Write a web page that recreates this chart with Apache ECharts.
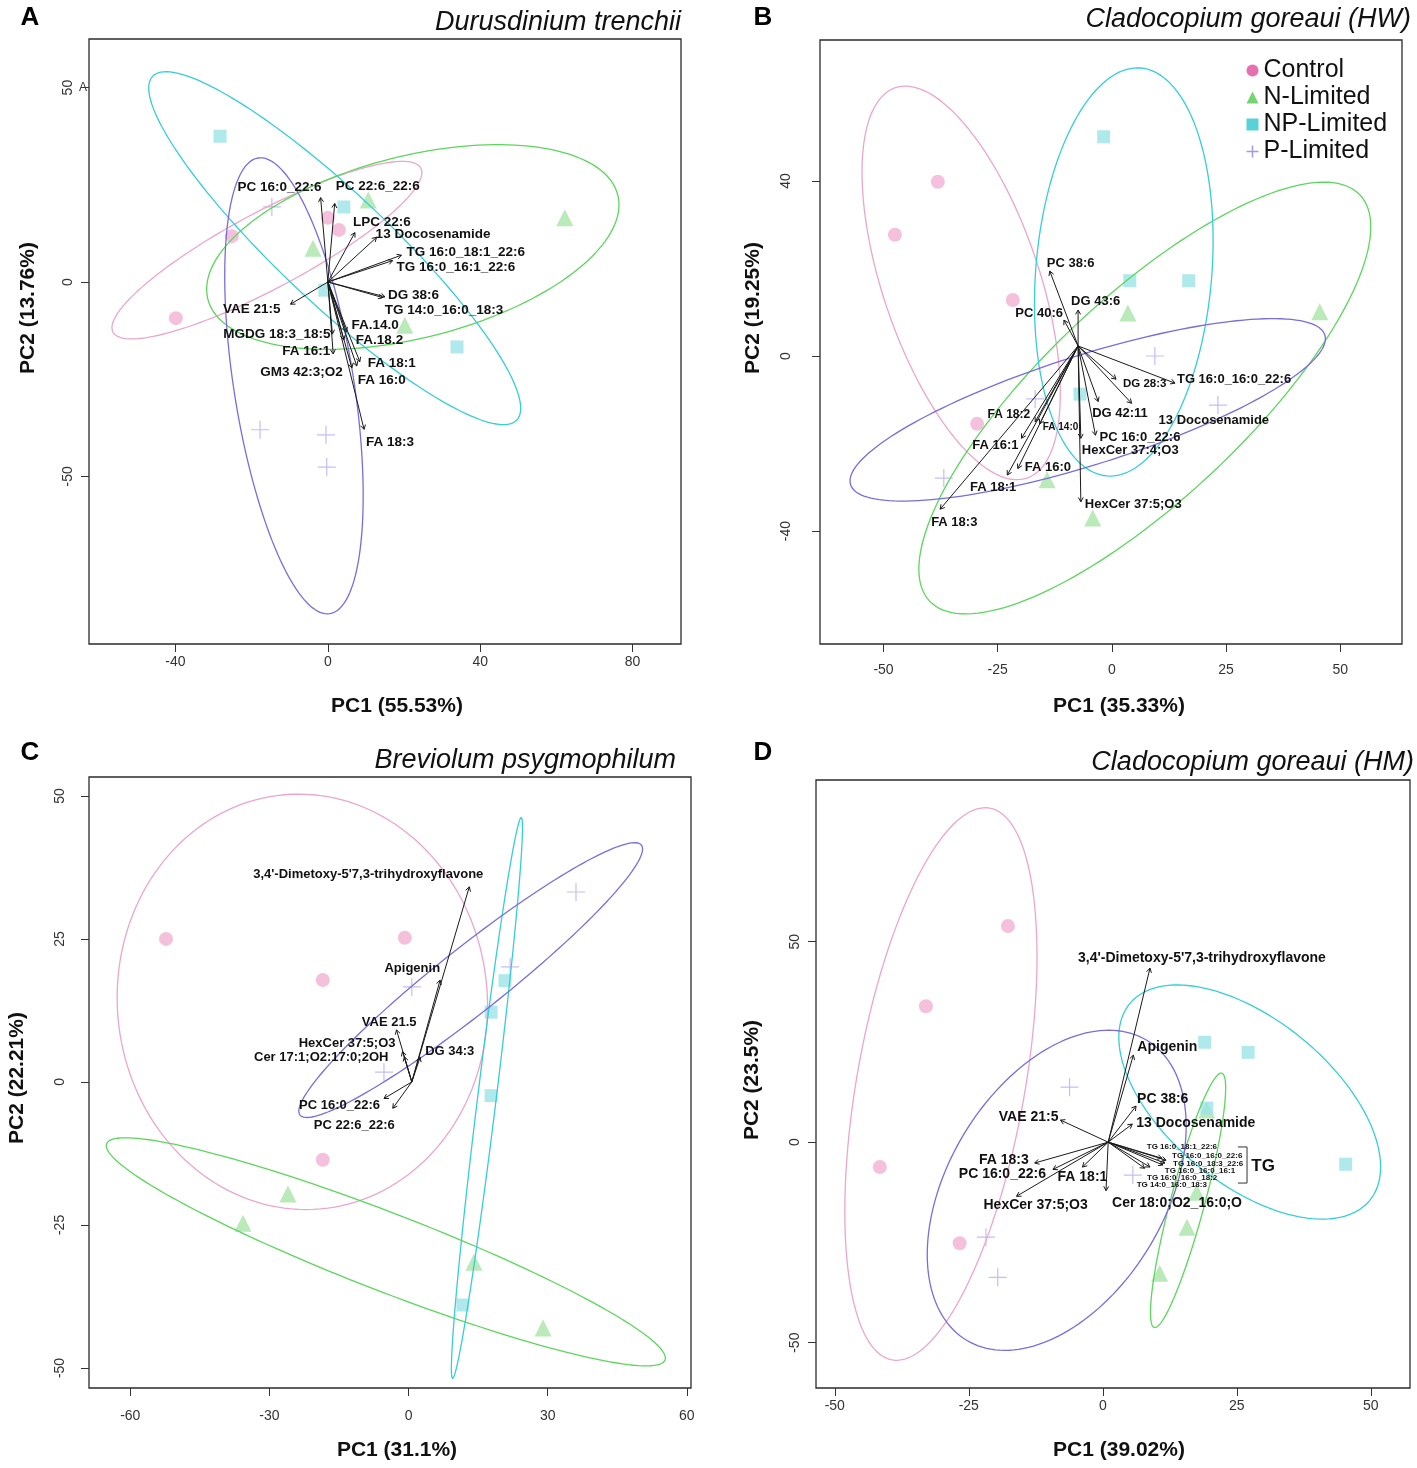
<!DOCTYPE html>
<html>
<head>
<meta charset="utf-8">
<title>PCA biplots</title>
<script src="https://cdn.jsdelivr.net/npm/echarts@6/dist/echarts.min.js"></script>
<style>
html, body { margin: 0; padding: 0; background: #fff; }
#chart { width: 1417px; height: 1468px; }
</style>
</head>
<body>
<div id="chart"></div>
<script>
var groupNames = ['Control', 'N-Limited', 'NP-Limited', 'P-Limited'];

// ---------- A: Durusdinium trenchii ----------
var ctrlA = [[-25.2, 11.8], [-39.9, -9.3], [0, 16.5], [2.9, 13.4]];
var nLimA = [[62.2, 16.5], [10.6, 21.1], [-3.9, 8.7], [20.2, -11.1]];
var npLimA = [[-28.3, 37.5], [4.2, 19.3], [-0.8, -2.1], [33.9, -16.7]];
var pLimA = [[-14.7, 19.3], [-17.8, -38.0], [-0.5, -39.3], [-0.3, -47.6]];
// centre x, centre y, end of long axis x, y, short/long ratio
var ellipseA = [[-16.0, 8.2, 24.4, 29.3, 0.22], [22.3, 9.0, 76.1, 22.4, 0.43],
                [1.8, 8.7, 49.6, -35.5, 0.22], [-8.9, -26.7, 0.5, -85.3, 0.26]];
var originA = [0, 0];
var loadNamesA = ['PC 16:0_22:6', 'PC 22:6_22:6', 'LPC 22:6', '13 Docosenamide', 'TG 16:0_18:1_22:6',
  'TG 16:0_16:1_22:6', 'DG 38:6', 'TG 14:0_16:0_18:3', 'VAE 21:5', 'MGDG 18:3_18:5', 'FA.14.0',
  'FA.18.2', 'FA 16:1', 'FA 18:1', 'GM3 42:3;O2', 'FA 16:0', 'FA 18:3'];
var loadXA = [-1.9, 1.8, 7.1, 12.8, 19.3, 17.0, 15.0, 14.4, -9.8, 1.2, 4.9, 4.2, 1.4, 8.4, 6.3, 7.6, 9.5];
var loadYA = [21.7, 20.2, 12.7, 11.5, 6.9, 5.5, -3.8, -4.0, -5.7, -13.4, -12.8, -14.9, -18.5, -20.5, -22.1, -21.6, -37.9];
var xTicksA = [-40, 0, 40, 80];
var yTicksA = [-50, 0, 50];

// ---------- B: Cladocopium goreaui (HW) ----------
var ctrlB = [[-38.1, 39.8], [-47.5, 27.7], [-21.7, 12.8], [-29.5, -15.5]];
var nLimB = [[45.5, 10.1], [3.5, 9.8], [-14.2, -28.3], [-4.2, -37.0]];
var npLimB = [[-1.8, 50.1], [3.9, 17.2], [16.8, 17.2], [-7.0, -8.7]];
var pLimB = [[9.4, 0], [23.2, -11.2], [-36.8, -27.9], [-16.8, -9.8]];
var ellipseB = [[-33.0, 16.7, -18.6, -27.9, 0.38], [7.2, -9.6, 54.3, 36.8, 0.34],
                [2.6, 19.2, 6.3, 65.8, 0.43], [-5.3, -12.3, 46.6, 4.8, 0.22]];
var originB = [-7.4, 2.3];
var loadNamesB = ['PC 38:6', 'DG 43:6', 'PC 40:6', 'DG 28:3', 'TG 16:0_16:0_22:6', '13 Docosenamide',
  'DG 42:11', 'PC 16:0_22:6', 'HexCer 37:4;O3', 'HexCer 37:5;O3', 'FA 18:2', 'FA 14:0', 'FA 16:1',
  'FA 16:0', 'FA 18:1', 'FA 18:3'];
var loadXB = [-13.6, -7.4, -10.5, 0.9, 13.8, 4.3, -3.0, -3.6, -6.8, -6.8, -16.8, -15.8, -19.8, -20.6, -22.9, -37.6];
var loadYB = [19.4, 10.5, 8.2, -5.3, -6.2, -10.8, -10.4, -18.1, -18.8, -33.3, -15.0, -15.5, -18.8, -25.7, -27.2, -35.0];
var xTicksB = [-50, -25, 0, 25, 50];
var yTicksB = [-40, 0, 40];

// ---------- C: Breviolum psygmophilum ----------
var ctrlC = [[-52.3, 25.0], [-0.8, 25.2], [-18.5, 17.8], [-18.5, -13.6]];
var nLimC = [[-35.7, -24.7], [-26.0, -19.6], [14.1, -31.5], [29.0, -43.0]];
var npLimC = [[20.8, 17.7], [17.8, 12.2], [17.8, -2.4], [11.7, -39.0]];
var pLimC = [[36.1, 33.2], [21.9, 20.1], [0.7, 16.6], [-5.3, 1.7]];
var ellipseC = [[-22.9, 14.0, -26.8, 50.2, 0.89], [-4.9, -29.7, 55.3, -48.6, 0.13],
                [16.9, -2.8, 24.3, 46.2, 0.033], [13.4, 17.8, 50.2, 41.4, 0.15]];
var originC = [0.7, 0];
var loadNamesC = ["3,4'-Dimetoxy-5'7,3-trihydroxyflavone", 'Apigenin', 'VAE 21.5', 'HexCer 37:5;O3',
  'Cer 17:1;O2:17:0;2OH', 'DG 34:3', 'PC 16:0_22:6', 'PC 22:6_22:6'];
var loadXC = [13.1, 6.8, -2.6, -1.3, -0.9, 2.5, -5.3, -3.4];
var loadYC = [34.1, 17.8, 9.1, 5.3, 4.4, 4.3, -2.9, -4.6];
var xTicksC = [-60, -30, 0, 30, 60];
var yTicksC = [-50, -25, 0, 25, 50];

// ---------- D: Cladocopium goreaui (HM) ----------
var ctrlD = [[-17.7, 53.9], [-33.0, 33.9], [-41.6, -6.2], [-26.7, -25.2]];
var nLimD = [[19.4, 8.0], [17.5, -12.5], [15.7, -21.2], [10.6, -32.7]];
var npLimD = [[19.0, 24.9], [27.1, 22.4], [19.4, 8.5], [45.3, -5.5]];
var pLimD = [[-6.2, 13.7], [5.6, -8.2], [-21.8, -23.7], [-19.6, -33.7]];
var ellipseD = [[-30.2, 14.5, -21.1, 83.3, 0.30], [15.9, -14.5, 22.2, 17.2, 0.13],
                [27.4, 10.0, 49.8, -14.5, 0.53], [-8.6, -12.0, 8.2, 25.4, 0.62]];
var originD = [1.0, 0];
var loadNamesD = ["3,4'-Dimetoxy-5'7,3-trihydroxyflavone", 'Apigenin', 'PC 38:6', '13 Docosenamide',
  'VAE 21:5', 'FA 18:3', 'PC 16:0_22:6', 'FA 18:1', 'HexCer 37:5;O3', 'Cer 18:0;O2_16:0;O',
  'TG 16:0_18:1_22:6', 'TG 16:0_16:0_22:6', 'TG 16:0_18:3_22:6', 'TG 16:0_16:0_16:1',
  'TG 16:0_16:0_18:2', 'TG 14:0_16:0_18:3'];
var loadXD = [8.8, 5.7, 6.2, 5.5, -7.9, -12.7, -9.3, -3.8, -16.1, 0.6, 11.0, 11.8, 11.6, 11.2, 8.8, 7.8];
var loadYD = [43.4, 21.7, 9.0, 4.5, 5.5, -5.2, -6.8, -6.2, -13.5, -12.1, -4.0, -4.5, -5.2, -5.7, -6.2, -6.5];
var xTicksD = [-50, -25, 0, 25, 50];
var yTicksD = [-50, 0, 50];

var titles = ['Durusdinium trenchii', 'Cladocopium goreaui (HW)', 'Breviolum psygmophilum', 'Cladocopium goreaui (HM)'];
var xTitles = ['PC1 (55.53%)', 'PC1 (35.33%)', 'PC1 (31.1%)', 'PC1 (39.02%)'];
var yTitles = ['PC2 (13.76%)', 'PC2 (19.25%)', 'PC2 (22.21%)', 'PC2 (23.5%)'];
var letters = ['A', 'B', 'C', 'D'];

// ---------- layout / style ----------
var pointColors = ['#F3B0D2', '#A9E4A9', '#9CE4E7', '#B6ADF0'];
var ellipseColors = ['#EBA6CC', '#5CD65C', '#35CED8', '#7A6CDC'];
var legendColors = ['#E04C9C', '#4FCB4F', '#2EC5CF', '#8D7FE3'];
var symbols = ['circle', 'triangle', 'rect', 'path://M10,0L10,20M0,10L20,10'];
var symbolSizes = [14, 17, 13, 18];
var FONT = 'Liberation Sans, Arial, sans-serif';

// label placement: [align, dx, dy, fontSize] in pixels from arrow tip
var labelPosA = [['right', 1, -10], ['left', 1, -17], ['left', -2, -10], ['left', -1, -3], ['left', 5, -3],
  ['left', 4, 7], ['left', 3, -2], ['left', 2, 13], ['right', -10, 5], ['right', -2, 0], ['left', 5, -6],
  ['left', 12, 0], ['right', -3, -3], ['left', 8, 2], ['right', -9, 4], ['left', 1, 14], ['left', 2, 13]];
var labelPosB = [['left', -3, -8], ['left', -7, -9], ['right', -1, -7], ['left', 7, 5, 11.5], ['left', 2, -4],
  ['left', 27, 17], ['left', -6, 12], ['left', 4, 2], ['left', 1, 12], ['left', 4, 3], ['right', -5, -7, 12],
  ['left', 3, 3, 10], ['right', -3, 7], ['left', 7, -1], ['right', 9, 12], ['left', -9, 13]];
var labelPosC = [['right', 14, -12], ['right', 0, -12], ['right', 20, -7], ['right', -7, -8],
  ['right', -16, 1], ['left', 5, -6], ['right', -4, 7], ['right', 2, 17]];
var labelPosD = [['left', -72, -10], ['left', 4, -8], ['left', 1, -7], ['left', 4, -1], ['right', -2, -3],
  ['right', -6, -3], ['right', -7, 5], ['center', 0, 10], ['left', -33, 9], ['left', 6, 12],
  ['left', -15, -11, 8], ['left', 6, -4, 8], ['left', 8, 0.5, 8], ['left', 2, 5.7, 8], ['left', -3, 11, 8], ['left', -8, 17, 8]];
var tgBracket = [25.2, 26.9, -1.2, -10.2, 29.9, -6.0];

var panels = [
  {groups: [ctrlA, nLimA, npLimA, pLimA], ellipses: ellipseA, origin: originA, names: loadNamesA,
   xs: loadXA, ys: loadYA, xTicks: xTicksA, yTicks: yTicksA, labelPos: labelPosA,
   grid: {left: 89, top: 39, width: 592, height: 605}, xRange: [-62.7, 92.7], yRange: [-93.1, 62.5],
   xMargin: 11, yMargin: 14, fontSize: 13.5,
   letterPos: [30, 18], titlePos: [681, 22], xTitlePos: [397, 706], yTitlePos: [28, 308]},
  {groups: [ctrlB, nLimB, npLimB, pLimB], ellipses: ellipseB, origin: originB, names: loadNamesB,
   xs: loadXB, ys: loadYB, xTicks: xTicksB, yTicks: yTicksB, labelPos: labelPosB,
   grid: {left: 820, top: 40, width: 582, height: 604}, xRange: [-63.9, 63.5], yRange: [-65.8, 72.2],
   xMargin: 19, yMargin: 27, fontSize: 13,
   letterPos: [763, 18], titlePos: [1411, 19], xTitlePos: [1119, 706], yTitlePos: [753, 308]},
  {groups: [ctrlC, nLimC, npLimC, pLimC], ellipses: ellipseC, origin: originC, names: loadNamesC,
   xs: loadXC, ys: loadYC, xTicks: xTicksC, yTicks: yTicksC, labelPos: labelPosC,
   grid: {left: 89, top: 777, width: 602, height: 611}, xRange: [-68.9, 60.9], yRange: [-53.5, 53.3],
   xMargin: 21, yMargin: 22, fontSize: 13,
   letterPos: [30, 753], titlePos: [676, 760], xTitlePos: [397, 1450], yTitlePos: [17, 1078]},
  {groups: [ctrlD, nLimD, npLimD, pLimD], ellipses: ellipseD, origin: originD, names: loadNamesD,
   xs: loadXD, ys: loadYD, xTicks: xTicksD, yTicks: yTicksD, labelPos: labelPosD,
   grid: {left: 816, top: 780, width: 594, height: 608}, xRange: [-53.5, 57.3], yRange: [-61.3, 90.3],
   xMargin: 11, yMargin: 14, fontSize: 14,
   letterPos: [763, 753], titlePos: [1414, 762], xTitlePos: [1119, 1450], yTitlePos: [752, 1080]}
];

function renderEllipse(params, api) {
  var c = api.coord([api.value(0), api.value(1)]);
  var t = api.coord([api.value(2), api.value(3)]);
  var ratio = api.value(4);
  var ux = t[0] - c[0], uy = t[1] - c[1];
  var pts = [];
  for (var i = 0; i < 160; i++) {
    var a = i / 160 * Math.PI * 2;
    var ca = Math.cos(a), sa = Math.sin(a);
    pts.push([c[0] + ux * ca - uy * ratio * sa, c[1] + uy * ca + ux * ratio * sa]);
  }
  return {
    type: 'polygon', shape: {points: pts},
    style: {fill: 'none', stroke: ellipseColors[api.value(5)], lineWidth: 1.3}
  };
}

function arrowRenderer(p) {
  return function(params, api) {
    var o = api.coord(p.origin);
    var e = api.coord([api.value(0), api.value(1)]);
    var k = params.dataIndex;
    var ang = Math.atan2(e[1] - o[1], e[0] - o[0]);
    var h = 5;
    var a1 = [e[0] - h * Math.cos(ang - Math.PI / 6), e[1] - h * Math.sin(ang - Math.PI / 6)];
    var a2 = [e[0] - h * Math.cos(ang + Math.PI / 6), e[1] - h * Math.sin(ang + Math.PI / 6)];
    var lp = p.labelPos[k];
    return {
      type: 'group',
      children: [
        {type: 'line', shape: {x1: o[0], y1: o[1], x2: e[0], y2: e[1]}, style: {stroke: '#1a1a1a', lineWidth: 1}},
        {type: 'polyline', shape: {points: [a1, e, a2]}, style: {stroke: '#1a1a1a', fill: 'none', lineWidth: 1}},
        {type: 'text', x: e[0] + lp[1], y: e[1] + lp[2],
         style: {text: p.names[k], align: lp[0], verticalAlign: 'middle', fill: '#111',
                 fontSize: lp[3] || p.fontSize, fontWeight: 'bold', fontFamily: FONT}}
      ]
    };
  };
}

function renderBracket(params, api) {
  var b = tgBracket;
  var pts = [api.coord([b[0], b[2]]), api.coord([b[1], b[2]]), api.coord([b[1], b[3]]), api.coord([b[0], b[3]])];
  var lab = api.coord([b[4], b[5]]);
  return {
    type: 'group',
    children: [
      {type: 'polyline', shape: {points: pts}, style: {stroke: '#333', fill: 'none', lineWidth: 1}},
      {type: 'text', x: lab[0], y: lab[1],
       style: {text: 'TG', align: 'center', verticalAlign: 'middle', fill: '#111', fontSize: 17, fontWeight: 'bold', fontFamily: FONT}}
    ]
  };
}

var grids = [], xAxes = [], yAxes = [], series = [], graphics = [];

panels.forEach(function(p, i) {
  grids.push({left: p.grid.left, top: p.grid.top, width: p.grid.width, height: p.grid.height,
    show: true, borderColor: '#2b2b2b', borderWidth: 1.3, backgroundColor: 'transparent'});
  xAxes.push({
    type: 'value', gridIndex: i, min: p.xRange[0], max: p.xRange[1], position: 'bottom',
    axisLine: {show: false, onZero: false}, splitLine: {show: false},
    axisTick: {show: true, length: 8, customValues: p.xTicks, lineStyle: {color: '#333'}},
    axisLabel: {customValues: p.xTicks, margin: p.xMargin, color: '#333', fontSize: 14, fontFamily: FONT}
  });
  yAxes.push({
    type: 'value', gridIndex: i, min: p.yRange[0], max: p.yRange[1], position: 'left',
    axisLine: {show: false, onZero: false}, splitLine: {show: false},
    axisTick: {show: true, length: 8, customValues: p.yTicks, lineStyle: {color: '#333'}},
    axisLabel: {customValues: p.yTicks, margin: p.yMargin, rotate: 90, color: '#333', fontSize: 14, fontFamily: FONT}
  });

  p.groups.forEach(function(pts, g) {
    series.push({
      type: 'scatter', name: groupNames[g], xAxisIndex: i, yAxisIndex: i, data: pts,
      symbol: symbols[g], symbolSize: symbolSizes[g], silent: true, z: 2,
      itemStyle: g === 3 ? {color: 'none', borderColor: pointColors[3], borderWidth: 1.2} : {color: pointColors[g]}
    });
  });

  series.push({
    type: 'custom', xAxisIndex: i, yAxisIndex: i, z: 3, silent: true, clip: true,
    renderItem: renderEllipse,
    encode: {x: [0, 2], y: [1, 3]},
    data: p.ellipses.map(function(r, g) { return r.concat([g]); })
  });

  series.push({
    type: 'custom', xAxisIndex: i, yAxisIndex: i, z: 4, silent: true, clip: false,
    renderItem: arrowRenderer(p),
    data: p.xs.map(function(x, k) { return [x, p.ys[k]]; })
  });

  graphics.push({type: 'text', x: p.letterPos[0], y: p.letterPos[1],
    style: {text: letters[i], align: 'center', verticalAlign: 'middle', fontSize: 26, fontWeight: 'bold', fontFamily: FONT, fill: '#000'}});
  graphics.push({type: 'text', x: p.titlePos[0], y: p.titlePos[1],
    style: {text: titles[i], align: 'right', verticalAlign: 'middle', fontSize: 27, fontStyle: 'italic', fontFamily: FONT, fill: '#111'}});
  graphics.push({type: 'text', x: p.xTitlePos[0], y: p.xTitlePos[1],
    style: {text: xTitles[i], align: 'center', verticalAlign: 'middle', fontSize: 21, fontWeight: 'bold', fontFamily: FONT, fill: '#111'}});
  graphics.push({type: 'text', x: p.yTitlePos[0], y: p.yTitlePos[1], rotation: Math.PI / 2,
    style: {text: yTitles[i], align: 'center', verticalAlign: 'middle', fontSize: 21, fontWeight: 'bold', fontFamily: FONT, fill: '#111'}});
});

series.push({
  type: 'custom', xAxisIndex: 3, yAxisIndex: 3, z: 4, silent: true, clip: false,
  renderItem: renderBracket, data: [[tgBracket[0], tgBracket[2]]]
});

graphics.push({type: 'text', x: 83, y: 88,
  style: {text: 'A', align: 'center', verticalAlign: 'middle', fontSize: 12, fontFamily: FONT, fill: '#333'}});

var chart = echarts.init(document.getElementById('chart'), null, {renderer: 'canvas'});
chart.setOption({
  animation: false,
  backgroundColor: '#ffffff',
  grid: grids,
  xAxis: xAxes,
  yAxis: yAxes,
  legend: {
    left: 1239, top: 53, orient: 'vertical', itemGap: 2, itemWidth: 12, itemHeight: 12,
    selectedMode: false,
    textStyle: {fontSize: 25, fontFamily: FONT, color: '#111'},
    data: [
      {name: 'Control', icon: 'circle', itemStyle: {color: legendColors[0]}},
      {name: 'N-Limited', icon: 'triangle', itemStyle: {color: legendColors[1]}},
      {name: 'NP-Limited', icon: 'rect', itemStyle: {color: legendColors[2]}},
      {name: 'P-Limited', icon: 'path://M10,0L10,20M0,10L20,10',
       itemStyle: {color: 'none', borderColor: legendColors[3], borderWidth: 1.5}}
    ]
  },
  graphic: graphics,
  series: series
});
</script>
</body>
</html>
